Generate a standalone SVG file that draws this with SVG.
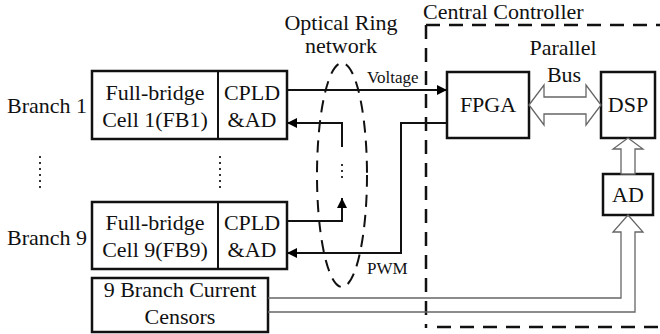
<svg xmlns="http://www.w3.org/2000/svg" width="660" height="334" viewBox="0 0 660 334">
<defs>
<marker id="ah" viewBox="0 0 10 10" refX="10" refY="5" markerWidth="10" markerHeight="10" markerUnits="userSpaceOnUse" orient="auto">
<path d="M0,0 L10,5 L0,10 Z" fill="#000"/>
</marker>
</defs>
<style>
text{font-family:"Liberation Serif","Times New Roman",serif;font-size:22px;fill:#111}
.c{text-anchor:middle}
.s{font-size:17px}
.box{fill:#fff;stroke:#111;stroke-width:2.5}
.ln{fill:none;stroke:#111;stroke-width:2}
.hol{fill:#fff;stroke:#666;stroke-width:1.3}
.dash{fill:none;stroke:#111;stroke-width:2.5;stroke-dasharray:14 9}
.dot{fill:none;stroke:#333;stroke-width:2;stroke-dasharray:2 4}
</style>
<g id="central-controller">
<path class="dash" d="M426,25 H660 M426,25 V328 M437,327 H660"/>
<text x="423" y="19">Central Controller</text>
</g>
<g id="optical-ring">
<ellipse cx="342" cy="175" rx="25" ry="112" fill="none" stroke="#111" stroke-width="2" stroke-dasharray="12 8"/>
<text class="c" x="341" y="30">Optical Ring</text>
<text class="c" x="341" y="53">network</text>
</g>
<g id="branch1">
<text x="7" y="113">Branch 1</text>
<rect class="box" x="92" y="71" width="195" height="68"/>
<line x1="218" y1="71" x2="218" y2="139" stroke="#111" stroke-width="2"/>
<text class="c" x="155" y="100">Full-bridge</text>
<text class="c" x="155" y="127">Cell 1(FB1)</text>
<text class="c" x="252" y="100">CPLD</text>
<text class="c" x="252" y="127">&amp;AD</text>
</g>
<g id="branch9">
<text x="7" y="245">Branch 9</text>
<rect class="box" x="92" y="202" width="195" height="67"/>
<line x1="218" y1="202" x2="218" y2="269" stroke="#111" stroke-width="2"/>
<text class="c" x="155" y="230">Full-bridge</text>
<text class="c" x="155" y="257">Cell 9(FB9)</text>
<text class="c" x="252" y="230">CPLD</text>
<text class="c" x="252" y="257">&amp;AD</text>
</g>
<g id="ellipsis">
<line class="dot" x1="40" y1="156" x2="40" y2="188"/>
<line class="dot" x1="220" y1="156" x2="220" y2="188"/>
<line class="dot" x1="342" y1="164" x2="342" y2="178"/>
</g>
<g id="sensors">
<rect class="box" x="92" y="278" width="176" height="54"/>
<text class="c" x="180" y="297">9 Branch Current</text>
<text class="c" x="180" y="324">Censors</text>
</g>
<g id="fpga">
<rect class="box" x="447" y="72" width="82" height="66"/>
<text class="c" x="488" y="112">FPGA</text>
</g>
<g id="dsp">
<rect class="box" x="601" y="72" width="54" height="66"/>
<text class="c" x="628" y="112">DSP</text>
</g>
<g id="ad">
<rect class="box" x="603" y="174" width="50" height="41"/>
<text class="c" x="628" y="202">AD</text>
</g>
<g id="connectors">
<line class="ln" x1="287" y1="90" x2="447" y2="90" marker-end="url(#ah)"/>
<polyline class="ln" points="342,147 342,123 287,123" marker-end="url(#ah)"/>
<polyline class="ln" points="287,221 342,221 342,198" marker-end="url(#ah)"/>
<polyline class="ln" points="447,123 401,123 401,253 287,253" marker-end="url(#ah)"/>
<polygon class="hol" points="529,105 544,85 544,97 586,97 586,85 601,105 586,125 586,114 544,114 544,125"/>
<polygon class="hol" points="628,138 643,149 635,149 635,174 621,174 621,149 613,149"/>
<polyline class="hol" fill="none" style="fill:none" points="268,298 621,298 621,232 613,232 628,215 643,232 635,232 635,312 268,312"/>
<text class="s" x="367" y="83">Voltage</text>
<text class="s" x="367" y="274">PWM</text>
<text class="c" x="563" y="55">Parallel</text>
<text class="c" x="564" y="82">Bus</text>
</g>
</svg>
